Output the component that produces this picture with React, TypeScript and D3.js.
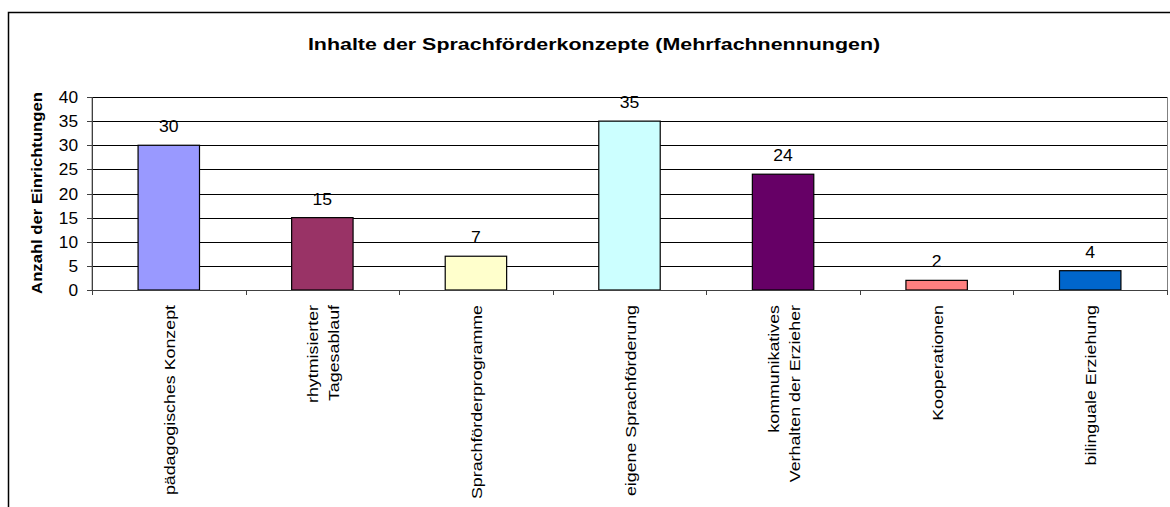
import * as d3 from 'd3';

const categories = [
  ['pädagogisches Konzept'],
  ['rhytmisierter', 'Tagesablauf'],
  ['Sprachförderprogramme'],
  ['eigene Sprachförderung'],
  ['kommunikatives', 'Verhalten der Erzieher'],
  ['Kooperationen'],
  ['bilinguale Erziehung'],
];
const values = [30, 15, 7, 35, 24, 2, 4];
const barColors = ['#9999FF', '#993366', '#FFFFCC', '#CCFFFF', '#660066', '#FF8080', '#0066CC'];
const yTicks = [0, 5, 10, 15, 20, 25, 30, 35, 40];

const title = 'Inhalte der Sprachförderkonzepte (Mehrfachnennungen)';
const yTitle = 'Anzahl der Einrichtungen';

const W = 1170;
const H = 507;
const FONT = '"Liberation Sans", Arial, sans-serif';

export default function App() {
  const plot = { left: 92, right: 1167, top: 97, bottom: 290 };

  const x = d3.scaleBand<number>()
    .domain(values.map((_, i) => i))
    .range([plot.left, plot.right])
    .padding(0);
  const y = d3.scaleLinear().domain([0, 40]).range([plot.bottom, plot.top]);

  const barW = x.bandwidth() * 0.4;
  const boundaries = d3.range(values.length + 1).map(i => plot.left + i * x.step());

  return (
    <svg width={W} height={H} style={{ position: 'absolute', left: 0, top: 0, background: '#fff' }}
      fontFamily={FONT}>
      {/* chart frame, cut off at the right and bottom */}
      <rect x={8.5} y={12.5} width={1200} height={520} fill="#fff" stroke="#000" strokeWidth={1.5} />

      <text transform="translate(594,50) scale(1.26,1)" textAnchor="middle"
        fontSize={17} fontWeight="bold">{title}</text>

      {/* plot area border */}
      <rect x={plot.left} y={plot.top + 0.5} width={plot.right - plot.left + 0.5} height={plot.bottom - plot.top}
        fill="none" stroke="#808080" strokeWidth={1} />

      {/* gridlines */}
      {yTicks.filter(t => t > 0).map(t => (
        <line key={t} x1={plot.left} x2={plot.right} y1={Math.round(y(t)) + 0.5} y2={Math.round(y(t)) + 0.5}
          stroke="#000" strokeWidth={1} />
      ))}

      {/* bars */}
      {values.map((v, i) => {
        const cx = (x(i) as number) + x.bandwidth() / 2;
        return (
          <g key={i}>
            <rect x={cx - barW / 2} y={y(v)} width={barW} height={y(0) - y(v)}
              fill={barColors[i]} stroke="#000" strokeWidth={1.2} />
            <text transform={`translate(${cx},${y(v) - 13}) scale(1.1,1)`} textAnchor="middle"
              fontSize={16}>{v}</text>
          </g>
        );
      })}

      {/* y axis */}
      <line x1={plot.left + 0.5} x2={plot.left + 0.5} y1={plot.top} y2={plot.bottom} stroke="#404040" />
      {yTicks.map(t => (
        <g key={t}>
          <line x1={plot.left - 5} x2={plot.left} y1={Math.round(y(t)) + 0.5} y2={Math.round(y(t)) + 0.5}
            stroke="#404040" />
          <text transform={`translate(${plot.left - 14},${y(t) + 6}) scale(1.08,1)`} textAnchor="end"
            fontSize={16}>{t}</text>
        </g>
      ))}
      <text transform="translate(42,193) rotate(-90) scale(1.15,1)" textAnchor="middle"
        fontSize={14.5} fontWeight="bold">{yTitle}</text>

      {/* x axis */}
      <line x1={plot.left} x2={plot.right} y1={plot.bottom + 0.5} y2={plot.bottom + 0.5} stroke="#404040" />
      {boundaries.map((b, i) => (
        <line key={i} x1={Math.round(b) + 0.5} x2={Math.round(b) + 0.5} y1={plot.bottom} y2={plot.bottom + 5}
          stroke="#404040" />
      ))}
      {categories.map((lines, i) => {
        const cx = (x(i) as number) + x.bandwidth() / 2;
        return lines.map((ln, j) => {
          const off = (j - (lines.length - 1) / 2) * 21;
          return (
            <text key={`${i}-${j}`} transform={`translate(${cx + off + 6},305) rotate(-90) scale(1.15,1)`}
              textAnchor="end" fontSize={15.5}>{ln}</text>
          );
        });
      })}
    </svg>
  );
}
